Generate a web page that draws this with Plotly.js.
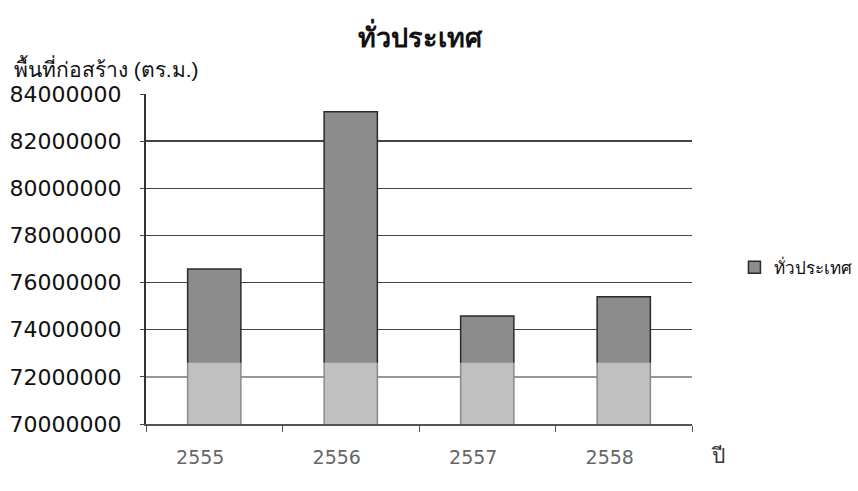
<!DOCTYPE html>
<html><head><meta charset="utf-8">
<script src="https://cdn.plot.ly/plotly-3.0.1.min.js"></script>
<style>html,body{margin:0;padding:0;background:#fff}#c{width:858px;height:491px}</style>
</head><body><div id="c"></div>
<script>
const years = ['2555', '2556', '2557', '2558'];
const area = [76580000, 83250000, 74580000, 75400000];
const seriesName = 'ทั่วประเทศ';
const yTicks = [70000000, 72000000, 74000000, 76000000, 78000000, 80000000, 82000000, 84000000];

const trace = {
  type: 'bar', x: years, y: area, name: seriesName, width: 0.39,
  marker: {color: '#8c8c8c', line: {color: '#2a2a2a', width: 1.5}},
  showlegend: true
};
const layout = {
  width: 858, height: 491,
  margin: {l: 146, r: 166, t: 94, b: 67, autoexpand: false},
  paper_bgcolor: '#fff', plot_bgcolor: '#fff',
  font: {family: 'Liberation Sans, Arial, sans-serif', color: '#111'},
  title: {text: '<b>ทั่วประเทศ</b>', x: 0.49, xanchor: 'center', y: 0.923, yanchor: 'middle',
    font: {size: 27, color: '#111'}},
  xaxis: {type: 'category', showgrid: false, showline: true, linecolor: '#555', linewidth: 1.5,
    ticks: 'outside', ticklen: 6, tickcolor: '#555', tickson: 'boundaries',
    ticklabelstandoff: 16, ticklabelshift: -14,
    tickfont: {family: 'DejaVu Sans, sans-serif', size: 19, color: '#666'}},
  yaxis: {range: [70000000, 84000000], tickvals: yTicks, tickformat: 'd',
    showgrid: true, gridcolor: '#444', gridwidth: 1.3, showline: true, linecolor: '#333', linewidth: 2,
    ticks: 'outside', ticklen: 4, tickcolor: '#444', ticklabelstandoff: 14,
    zeroline: false, tickfont: {family: 'DejaVu Sans, sans-serif', size: 22, color: '#111'}},
  legend: {xref: 'container', yref: 'container', x: 0.856, y: 0.455, xanchor: 'left', yanchor: 'middle',
    font: {size: 17, color: '#111'}, itemwidth: 30, traceorder: 'normal'},
  shapes: [{type: 'rect', xref: 'paper', yref: 'y', x0: 0, x1: 1, y0: 70000000, y1: 72600000,
    fillcolor: 'rgba(255,255,255,0.45)', line: {width: 0}, layer: 'above'}],
  annotations: [
    {text: 'พื้นที่ก่อสร้าง (ตร.ม.)', xref: 'paper', yref: 'paper', x: -0.245, y: 1.08,
     xanchor: 'left', yanchor: 'middle', showarrow: false, font: {size: 21, color: '#111'}},
    {text: 'ปี', xref: 'paper', yref: 'paper', x: 1.048, y: -0.094,
     xanchor: 'center', yanchor: 'middle', showarrow: false, font: {size: 21, color: '#333'}}
  ]
};
Plotly.newPlot('c', [trace], layout, {displayModeBar: false, staticPlot: true});
</script></body></html>
